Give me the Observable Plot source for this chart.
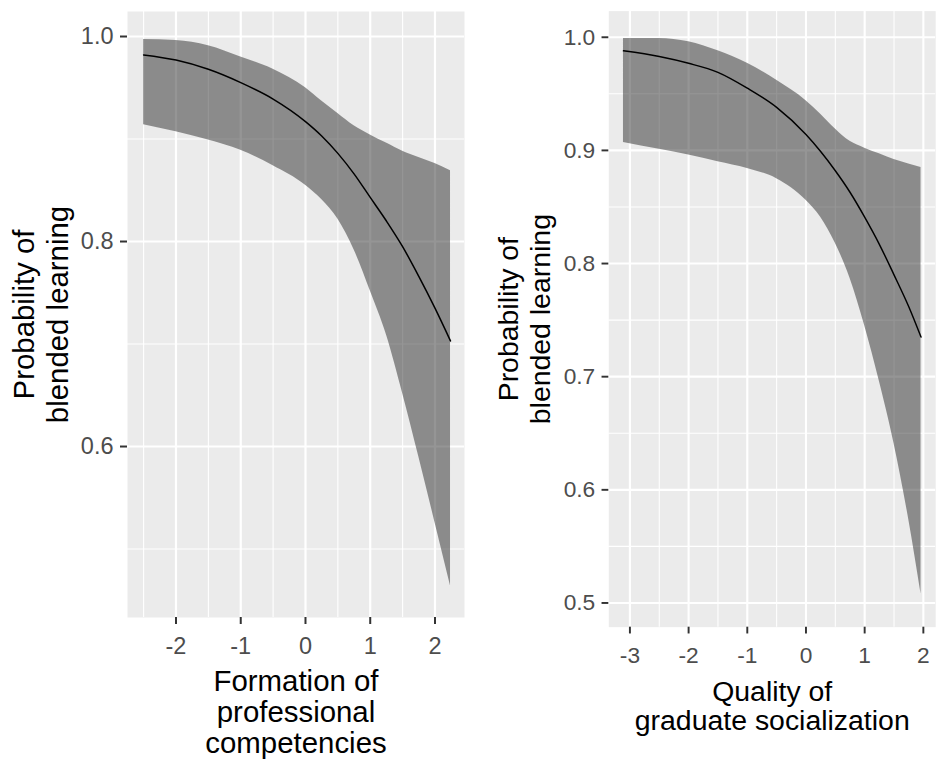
<!DOCTYPE html>
<html>
<head>
<meta charset="utf-8">
<script src="https://cdn.jsdelivr.net/npm/d3@7"></script>
<script src="https://cdn.jsdelivr.net/npm/@observablehq/plot@0.6"></script>
<style>
  html, body { margin: 0; padding: 0; background: #ffffff; }
  #wrap { position: relative; width: 941px; height: 760px; overflow: hidden; background: #ffffff; }
  #p1, #p2 { position: absolute; top: 0; }
  #p1 { left: 0; }
  #p2 { left: 470px; }
  svg { display: block; }
</style>
</head>
<body>
<div id="wrap"><div id="p1"></div><div id="p2"></div></div>
<script>
// ---- Panel 1: Formation of professional competencies ----
const x1 = [-2.5, -2.0, -1.5, -1.0, -0.5, 0, 0.25, 0.5, 0.75, 1.0, 1.25, 1.5, 1.75, 2.0, 2.24];
const fit1 = [0.982, 0.977, 0.968, 0.955, 0.939, 0.917, 0.903, 0.886, 0.866, 0.843, 0.820, 0.795, 0.766, 0.735, 0.703];
const upper1 = [0.997, 0.996, 0.991, 0.980, 0.968, 0.950, 0.937, 0.925, 0.913, 0.904, 0.896, 0.888, 0.882, 0.876, 0.869];
const lower1 = [0.914, 0.907, 0.899, 0.889, 0.874, 0.855, 0.841, 0.822, 0.792, 0.752, 0.709, 0.652, 0.590, 0.526, 0.464];
const xTicks1 = [-2, -1, 0, 1, 2];
const xMinor1 = [-2.5, -1.5, -0.5, 0.5, 1.5];
const yTicks1 = [0.6, 0.8, 1.0];
const yMinor1 = [0.5, 0.7, 0.9];
const xTitle1 = "Formation of\nprofessional\ncompetencies";

// ---- Panel 2: Quality of graduate socialization ----
const x2 = [-3.11, -2.5, -2.0, -1.5, -1.0, -0.5, 0, 0.25, 0.5, 0.75, 1.0, 1.25, 1.5, 1.75, 1.96];
const fit2 = [0.988, 0.983, 0.977, 0.969, 0.955, 0.938, 0.914, 0.899, 0.882, 0.863, 0.841, 0.817, 0.790, 0.762, 0.735];
const upper2 = [0.999, 0.999, 0.996, 0.988, 0.977, 0.962, 0.944, 0.932, 0.919, 0.908, 0.902, 0.897, 0.892, 0.888, 0.885];
const lower2 = [0.907, 0.901, 0.896, 0.890, 0.884, 0.875, 0.856, 0.841, 0.818, 0.787, 0.745, 0.696, 0.641, 0.574, 0.508];
const xTicks2 = [-3, -2, -1, 0, 1, 2];
const xMinor2 = [-2.5, -1.5, -0.5, 0.5, 1.5];
const yTicks2 = [0.5, 0.6, 0.7, 0.8, 0.9, 1.0];
const yMinor2 = [0.55, 0.65, 0.75, 0.85, 0.95];
const xTitle2 = "Quality of\ngraduate socialization";

const yTitle = "Probability of\nblended learning";

const FONT = "'Liberation Sans', Arial, Helvetica, sans-serif";
const TICK_FS = 23.5;
const TITLE_FS = 29.4;

function panel({xs, fit, lower, upper, xTicks, xMinor, yTicks, yMinor, xTitle, width, marginLeft, marginRight, marginBottom, xDomain, yDomain, xTitleDy, yTitleDx}) {
  const data = xs.map((x, i) => ({x, fit: fit[i], lower: lower[i], upper: upper[i]}));
  return Plot.plot({
    width, height: 760,
    marginLeft, marginRight, marginTop: 11, marginBottom,
    style: {fontFamily: FONT, background: "transparent", overflow: "visible"},
    x: {domain: xDomain},
    y: {domain: yDomain},
    marks: [
      Plot.frame({fill: "#ebebeb", stroke: null}),
      Plot.gridX(xMinor, {stroke: "#ffffff", strokeOpacity: 1, strokeWidth: 1.1}),
      Plot.gridY(yMinor, {stroke: "#ffffff", strokeOpacity: 1, strokeWidth: 1.1}),
      Plot.gridX(xTicks, {stroke: "#ffffff", strokeOpacity: 1, strokeWidth: 2.2}),
      Plot.gridY(yTicks, {stroke: "#ffffff", strokeOpacity: 1, strokeWidth: 2.2}),
      Plot.areaY(data, {x: "x", y1: "lower", y2: "upper", curve: "monotone-x", fill: "#333333", fillOpacity: 0.52}),
      Plot.lineY(data, {x: "x", y: "fit", curve: "monotone-x", stroke: "#000000", strokeWidth: 1.5}),
      Plot.axisX(xTicks, {tickSize: 7, tickPadding: 13, fontSize: TICK_FS, fill: "#4d4d4d", stroke: "#333333", strokeWidth: 2, tickFormat: d => String(d), label: null}),
      Plot.axisY(yTicks, {tickSize: 7, tickPadding: 7, fontSize: TICK_FS, fill: "#4d4d4d", stroke: "#333333", strokeWidth: 2, tickFormat: d3.format(".1f"), label: null}),
      Plot.text([xTitle], {text: d => d, frameAnchor: "bottom", dy: xTitleDy, lineAnchor: "top", textAnchor: "middle", fontSize: TITLE_FS, lineHeight: 1.05, fill: "#000000"}),
      Plot.text([yTitle], {text: d => d, frameAnchor: "left", rotate: -90, dx: yTitleDx, lineAnchor: "middle", textAnchor: "middle", fontSize: TITLE_FS, lineHeight: 1.15, fill: "#000000"})
    ]
  });
}

document.getElementById("p1").appendChild(panel({
  xs: x1, fit: fit1, lower: lower1, upper: upper1,
  xTicks: xTicks1, xMinor: xMinor1, yTicks: yTicks1, yMinor: yMinor1, xTitle: xTitle1,
  width: 470, marginLeft: 127, marginRight: 6, marginBottom: 143,
  xDomain: [-2.749, 2.456], yDomain: [0.4332, 1.0244],
  xTitleDy: 52, yTitleDx: -87
}));

document.getElementById("p2").appendChild(panel({
  xs: x2, fit: fit2, lower: lower2, upper: upper2,
  xTicks: xTicks2, xMinor: xMinor2, yTicks: yTicks2, yMinor: yMinor2, xTitle: xTitle2,
  width: 487, marginLeft: 143, marginRight: 6, marginBottom: 112,
  xDomain: [-3.36, 2.21], yDomain: [0.4786, 1.0231],
  xTitleDy: 54, yTitleDx: -88
}));
</script>
</body>
</html>
